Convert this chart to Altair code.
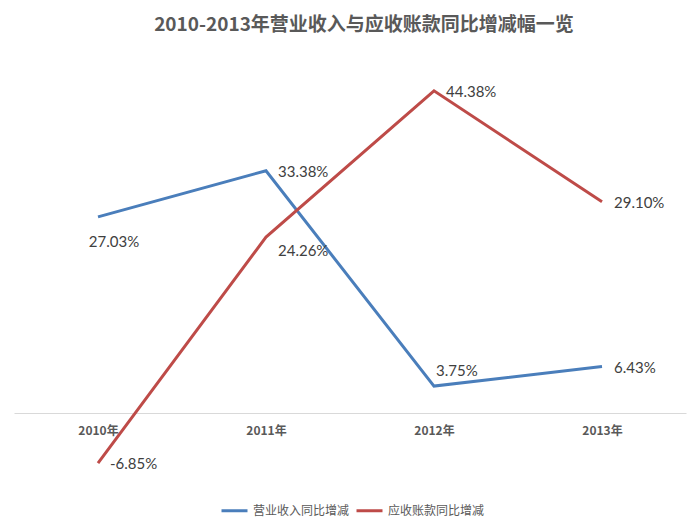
import altair as alt
import pandas as pd

years = ["2010年", "2011年", "2012年", "2013年"]
series_names = ["营业收入同比增减", "应收账款同比增减"]
revenue_growth = [27.03, 33.38, 3.75, 6.43]
receivable_growth = [-6.85, 24.26, 44.38, 29.10]
colors = ["#4A7EBB", "#BE4B48"]

rows = []
for name, vals in zip(series_names, [revenue_growth, receivable_growth]):
    for yr, v in zip(years, vals):
        rows.append({"year": yr, "series": name, "value": v})
df = pd.DataFrame(rows)

CJK = "Noto Sans CJK SC"
NUM = "Lato, Noto Sans CJK SC"

x = alt.X(
    "year:N",
    sort=years,
    scale=alt.Scale(type="point", padding=0.5),
    axis=alt.Axis(
        title=None, orient="bottom", offset=-73, domainColor="#d9d9d9",
        domainWidth=1, ticks=False, labelPadding=12, labelFont=CJK,
        labelFontSize=12, labelFontWeight="bold", labelColor="#595959",
        labelAngle=0, grid=False,
    ),
)
y = alt.Y("value:Q", scale=alt.Scale(domain=[-10, 50], nice=False, zero=False), axis=None)

base = alt.Chart(df)

lines = base.mark_line(strokeWidth=3).encode(
    x=x,
    y=y,
    color=alt.Color(
        "series:N",
        sort=series_names,
        scale=alt.Scale(domain=series_names, range=colors),
        legend=alt.Legend(
            title=None, orient="none", legendX=206, legendY=446,
            direction="horizontal", symbolType="stroke", symbolSize=676,
            symbolStrokeWidth=3, labelFont=CJK, labelFontSize=12,
            labelColor="#595959", columnPadding=0, labelOffset=4,
        ),
    ),
    order=alt.Order("year:N"),
)

s0, s1 = series_names
placements = [
    # (filter expression, align, dx, dy)
    (f"(datum.series == '{s0}' && (datum.year == '2011年' || datum.year == '2013年')) || "
     f"(datum.series == '{s1}' && datum.year != '2011年')", "left", 12, 1),
    (f"datum.series == '{s1}' && datum.year == '2011年'", "left", 12, 14),
    (f"datum.series == '{s0}' && datum.year == '2010年'", "center", 16, 25),
    (f"datum.series == '{s0}' && datum.year == '2012年'", "left", 2, -15),
]

layers = [lines]
for cond, align, dx, dy in placements:
    layers.append(
        base.transform_filter(cond)
        .transform_calculate(label="replace(format(datum.value, '.2f'), '\u2212', '-') + '%'")
        .mark_text(align=align, baseline="middle", dx=dx, dy=dy, font=NUM,
                   fontSize=15, color="#404040")
        .encode(x=x, y=y, text="label:N")
    )

chart = (
    alt.layer(*layers)
    .properties(
        width=672,
        height=436,
        autosize=alt.AutoSizeParams(type="none"),
        padding={"left": 6, "top": 42, "right": 6, "bottom": 36},
        title=alt.TitleParams(
            text="2010-2013年营业收入与应收账款同比增减幅一览",
            font=CJK, fontSize=19, fontWeight="bold", color="#595959",
            anchor="middle", offset=15, dx=14,
        ),
    )
    .configure_view(stroke=None)
)

chart.save("out.html", embed_options={"renderer": "svg", "actions": False})
